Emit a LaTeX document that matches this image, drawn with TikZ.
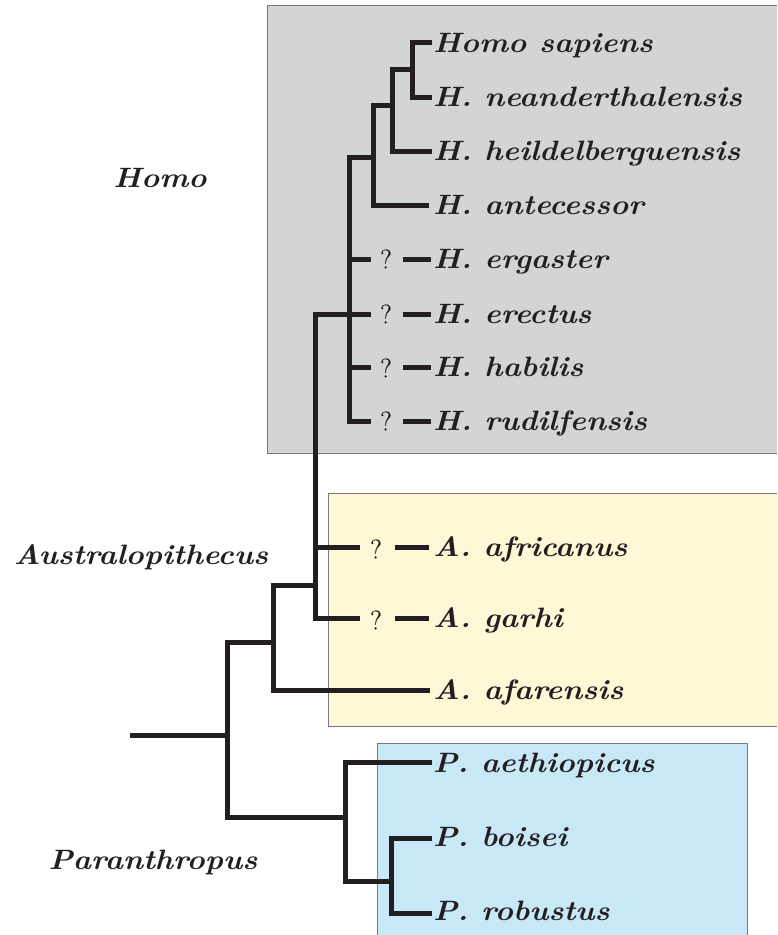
\documentclass[tikz,border=0pt]{standalone}
\usepackage{fontspec}
\newfontfamily\labfont[FakeStretch=1.1]{Latin Modern Roman}
\newfontfamily\qfont[FakeBold=0.6]{Latin Modern Roman}
\usepackage{xcolor}
\definecolor{ink}{HTML}{231F20}
\definecolor{homobg}{HTML}{D3D4D6}
\definecolor{australbg}{HTML}{FFF8D6}
\definecolor{paranbg}{HTML}{C8E8F8}
\definecolor{boxline}{HTML}{7A7A7A}
\begin{document}
\begin{tikzpicture}[x=1pt,y=-1pt,
  br/.style={line width=5pt, draw=ink, line join=miter},
  grp/.style={draw=boxline, line width=1pt},
  lab/.style={anchor=base west, inner sep=0pt, text=ink, font=\labfont\fontsize{28}{32}\selectfont\bfseries\itshape},
  glab/.style={anchor=base, inner sep=0pt, text=ink, font=\labfont\fontsize{28}{32}\selectfont\bfseries\itshape},
  qm/.style={inner sep=0pt, text=ink, font=\qfont\fontsize{27}{30}\selectfont}]
\useasboundingbox (0,0) rectangle (777,935);
% group boxes
\fill[homobg] (267,5) rectangle (777,453);
\draw[grp] (267,5) -- (267,453) -- (777,453);
\draw[grp] (267,5) -- (777,5);
\fill[australbg] (328,493) rectangle (777,726);
\draw[grp] (777,493) -- (328,493) -- (328,726) -- (777,726);
\fill[paranbg] (377,743) rectangle (747,940);
\draw[grp] (377,940) -- (377,743) -- (747,743) -- (747,940);
% group labels
\node[glab] (gHomo) at (160,187) {Homo};
\node[glab] (gAus) at (141,564) {Australopithecus};
\node[glab] (gPar) at (153,869) {Paranthropus};
% species labels
\node[lab] (Lsap) at (433,52) {Homo sapiens};
\node[lab] (Lnea) at (433,106) {H. neanderthalensis};
\node[lab] (Lhei) at (433,160) {H. heildelberguensis};
\node[lab] (Lant) at (433,214) {H. antecessor};
\node[lab] (Lerg) at (433,268) {H. ergaster};
\node[lab] (Lere) at (433,323) {H. erectus};
\node[lab] (Lhab) at (433,376) {H. habilis};
\node[lab] (Lrud) at (433,430) {H. rudilfensis};
\node[lab] (Lafr) at (433,556) {A. africanus};
\node[lab] (Lgar) at (433,627) {A. garhi};
\node[lab] (Lafa) at (433,699) {A. afarensis};
\node[lab] (Laet) at (433,772) {P. aethiopicus};
\node[lab] (Lboi) at (433,846) {P. boisei};
\node[lab] (Lrob) at (433,920) {P. robustus};
% question marks
\node[qm] (Qerg) at (386,259) {?};
\node[qm] (Qere) at (386,314) {?};
\node[qm] (Qhab) at (386,368) {?};
\node[qm] (Qrud) at (386,421) {?};
\node[qm] (Qafr) at (376,549) {?};
\node[qm] (Qgar) at (376,620) {?};
% tips
\coordinate (sap) at (432,42);
\coordinate (nea) at (432,97);
\coordinate (hei) at (432,151);
\coordinate (ant) at (429,205);
\coordinate (aerg) at (371,259);
\coordinate (aere) at (371,314);
\coordinate (ahab) at (371,367);
\coordinate (arud) at (371,421);
\coordinate (berg) at (403,259);
\coordinate (bere) at (403,314);
\coordinate (bhab) at (403,367);
\coordinate (brud) at (403,421);
\coordinate (cerg) at (431,259);
\coordinate (cere) at (431,314);
\coordinate (chab) at (431,367);
\coordinate (crud) at (431,421);
\coordinate (aafr) at (360,547);
\coordinate (agar) at (360,618);
\coordinate (bafr) at (395,547);
\coordinate (bgar) at (395,618);
\coordinate (cafr) at (429,547);
\coordinate (cgar) at (429,618);
\coordinate (afa) at (430,690);
\coordinate (aet) at (432,762);
\coordinate (boi) at (432,838);
\coordinate (rob) at (432,913);
% junctions
\coordinate (j1) at (412,69);
\coordinate (j2) at (392,105);
\coordinate (j3) at (373,157);
\coordinate (j4) at (349,157);
\coordinate (j5) at (315,585);
\coordinate (j6) at (273,642);
\coordinate (j7) at (227,735);
\coordinate (j8) at (345,817);
\coordinate (j9) at (391,881);
\coordinate (root) at (130,735);
% Homo
\draw[br] (sap) -| (j1) |- (nea);
\draw[br] (j1) -| (j2) |- (hei);
\draw[br] (j2) -| (j3) |- (ant);
\draw[br] (j3) -- (j4) |- (arud);
\draw[br] (j4 |- aerg) -- (aerg);
\draw[br] (j4 |- ahab) -- (ahab);
\draw[br] (berg) -- (cerg);
\draw[br] (bere) -- (cere);
\draw[br] (bhab) -- (chab);
\draw[br] (brud) -- (crud);
% erectus / Australopithecus
\draw[br] (aere) -| (j5) |- (agar);
\draw[br] (j5 |- aafr) -- (aafr);
\draw[br] (bafr) -- (cafr);
\draw[br] (bgar) -- (cgar);
\draw[br] (j5) -| (j6) |- (afa);
\draw[br] (j6) -| (j7) |- (j8);
\draw[br] (root) -- (j7);
% Paranthropus
\draw[br] (aet) -| (j8) |- (j9);
\draw[br] (boi) -| (j9) |- (rob);
\end{tikzpicture}
\end{document}
